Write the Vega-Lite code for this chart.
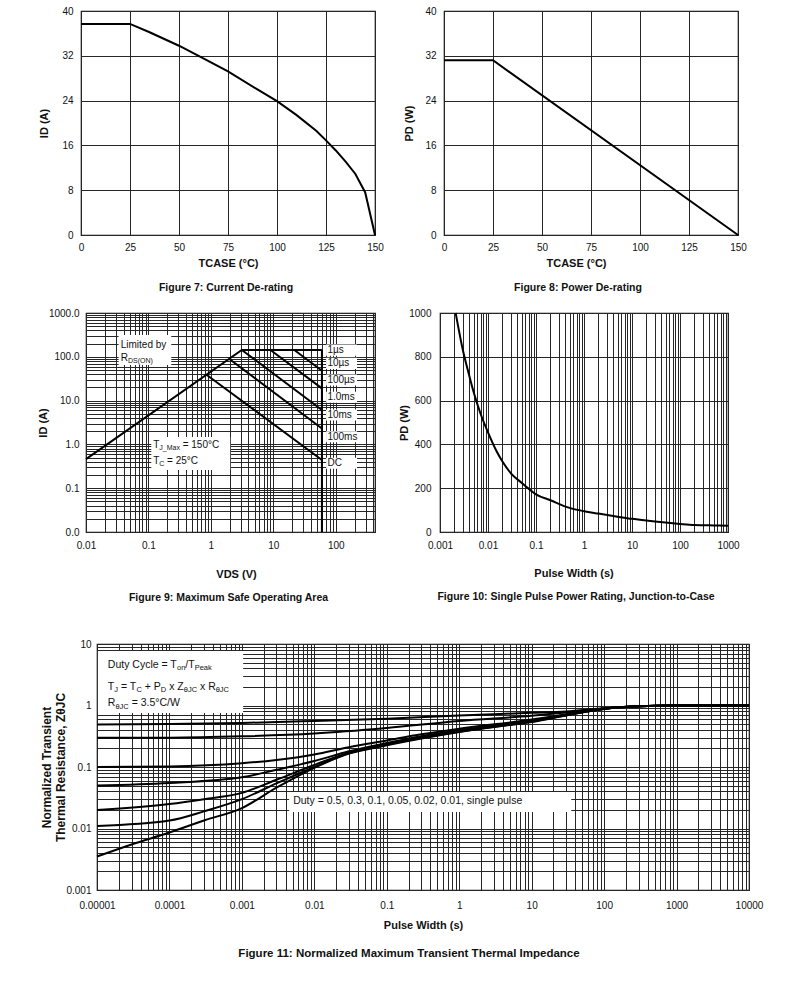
{
  "$schema": "https://vega.github.io/schema/vega-lite/v6.json",
  "background": "white",
  "padding": {"left": 0, "top": 5, "right": 5, "bottom": 5},
  "config": {
    "font": "Liberation Sans",
    "view": {"stroke": "#111", "strokeWidth": 1.2},
    "axis": {"domain": false, "ticks": false, "grid": true, "gridColor": "#262626", "gridOpacity": 1, "gridWidth": 1, "labelFont": "Liberation Sans", "labelFontSize": 10, "labelColor": "#111", "titleFont": "Liberation Sans", "titleFontSize": 11, "titleFontWeight": "bold", "titleColor": "#111", "labelFlush": false, "labelOverlap": false},
    "title": {"orient": "bottom", "anchor": "middle", "fontSize": 10.5, "fontWeight": "bold", "color": "#111", "font": "Liberation Sans", "offset": 15}
  },
  "vconcat": [
    {
      "vconcat": [
        {
          "hconcat": [
            {"width": 1, "height": 1, "view": {"stroke": null}, "data": {"values": [{}]}, "mark": {"type": "text", "text": ""}},
            {
              "hconcat": [
                {
                  "width": 294, "height": 224,
                  "title": {"text": "Figure 7:  Current De-rating", "dx": -2},
                  "data": {"values": [
                    {"T": 0, "I": 37.7}, {"T": 25, "I": 37.7}, {"T": 35, "I": 36.2}, {"T": 50, "I": 33.8}, {"T": 60, "I": 32.0}, {"T": 75, "I": 29.2}, {"T": 90, "I": 26.0}, {"T": 100, "I": 23.9}, {"T": 110, "I": 21.4}, {"T": 120, "I": 18.6}, {"T": 125, "I": 16.9}, {"T": 130, "I": 15.1}, {"T": 135, "I": 13.1}, {"T": 140, "I": 10.9}, {"T": 145, "I": 7.6}, {"T": 150, "I": 0}
                  ]},
                  "mark": {"type": "line", "color": "black", "strokeWidth": 2},
                  "encoding": {
                    "x": {"field": "T", "type": "quantitative", "scale": {"domain": [0, 150], "nice": false}, "axis": {"values": [0, 25, 50, 75, 100, 125, 150], "title": "TCASE (°C)", "labelPadding": 7, "titlePadding": 5}},
                    "y": {"field": "I", "type": "quantitative", "scale": {"domain": [0, 40], "nice": false}, "axis": {"values": [0, 8, 16, 24, 32, 40], "title": "ID (A)", "labelPadding": 8, "titlePadding": 12}}
                  }
                },
                {
                  "width": 294, "height": 224,
                  "title": {"text": "Figure 8:  Power De-rating", "dx": -13},
                  "data": {"values": [
                    {"T": 0, "P": 31.2}, {"T": 25, "P": 31.2}, {"T": 150, "P": 0}
                  ]},
                  "mark": {"type": "line", "color": "black", "strokeWidth": 2},
                  "encoding": {
                    "x": {"field": "T", "type": "quantitative", "scale": {"domain": [0, 150], "nice": false}, "axis": {"values": [0, 25, 50, 75, 100, 125, 150], "title": "TCASE (°C)", "labelPadding": 7, "titlePadding": 5, "titleX": 132}},
                    "y": {"field": "P", "type": "quantitative", "scale": {"domain": [0, 40], "nice": false}, "axis": {"values": [0, 8, 16, 24, 32, 40], "title": "PD (W)", "labelPadding": 8, "titlePadding": 10}}
                  }
                }
              ],
              "spacing": 19
            }
          ],
          "spacing": 37
        },
        {
          "hconcat": [
            {"width": 1, "height": 1, "view": {"stroke": null}, "data": {"values": [{}]}, "mark": {"type": "text", "text": ""}},
            {
              "hconcat": [
                {
                  "width": 289, "height": 219,
                  "title": {"text": "Figure 9:  Maximum Safe Operating Area", "dx": -2, "offset": 14},
                  "layer": [
                    {
                      "data": {"values": [
                        {"x1": 0.0333, "x2": 0.232, "y1": 65, "y2": 315},
                        {"x1": 0.111, "x2": 2.04, "y1": 0.26, "y2": 1.48},
                        {"x1": 70, "x2": 219, "y1": 106, "y2": 192},
                        {"x1": 70, "x2": 219, "y1": 53, "y2": 95},
                        {"x1": 70, "x2": 219, "y1": 22, "y2": 39.5},
                        {"x1": 70, "x2": 219, "y1": 8.9, "y2": 15.9},
                        {"x1": 70, "x2": 219, "y1": 3.5, "y2": 6.3},
                        {"x1": 70, "x2": 219, "y1": 1.12, "y2": 2.0},
                        {"x1": 70, "x2": 219, "y1": 0.277, "y2": 0.495}
                      ]},
                      "mark": {"type": "rect", "fill": "white"},
                      "encoding": {
                        "x": {"field": "x1", "type": "quantitative", "scale": {"type": "log", "domain": [0.01, 425], "nice": false}, "axis": {"title": "VDS (V)", "values": [0.01, 0.02, 0.03, 0.04, 0.05, 0.06, 0.07, 0.08, 0.09, 0.1, 0.2, 0.3, 0.4, 0.5, 0.6, 0.7, 0.8, 0.9, 1, 2, 3, 4, 5, 6, 7, 8, 9, 10, 20, 30, 40, 50, 60, 70, 80, 90, 100, 200, 300, 400], "labelExpr": "abs(log(datum.value)/LN10 - round(log(datum.value)/LN10)) < 0.01 ? format(datum.value, '~g') : ''", "labelPadding": 8, "titlePadding": 18, "titleX": 150}},
                        "x2": {"field": "x2"},
                        "y": {"field": "y1", "type": "quantitative", "scale": {"type": "log", "domain": [0.01, 1000], "nice": false}, "axis": {"title": "ID (A)", "values": [0.01, 0.02, 0.03, 0.04, 0.05, 0.06, 0.07, 0.08, 0.09, 0.1, 0.2, 0.3, 0.4, 0.5, 0.6, 0.7, 0.8, 0.9, 1, 2, 3, 4, 5, 6, 7, 8, 9, 10, 20, 30, 40, 50, 60, 70, 80, 90, 100, 200, 300, 400, 500, 600, 700, 800, 900, 1000], "labelExpr": "abs(log(datum.value)/LN10 - round(log(datum.value)/LN10)) < 0.01 ? format(datum.value, '.1f') : ''", "labelPadding": 7, "titlePadding": 0}},
                        "y2": {"field": "y2"}
                      }
                    },
                    {
                      "data": {"values": [
                        {"s": "rds", "v": 0.01, "i": 0.46}, {"s": "rds", "v": 3.13, "i": 143}, {"s": "rds", "v": 60, "i": 143},
                        {"s": "vert", "v": 60, "i": 143}, {"s": "vert", "v": 60, "i": 0.01},
                        {"s": "10us", "v": 21.7, "i": 143}, {"s": "10us", "v": 60, "i": 48},
                        {"s": "100us", "v": 9.0, "i": 143}, {"s": "100us", "v": 60, "i": 19},
                        {"s": "1ms", "v": 3.13, "i": 143}, {"s": "1ms", "v": 60, "i": 6.1},
                        {"s": "10ms", "v": 2.0, "i": 88}, {"s": "10ms", "v": 60, "i": 2.3},
                        {"s": "dc", "v": 0.85, "i": 39}, {"s": "dc", "v": 60, "i": 0.44}
                      ]},
                      "mark": {"type": "line", "color": "black", "strokeWidth": 2},
                      "encoding": {
                        "x": {"field": "v", "type": "quantitative"},
                        "y": {"field": "i", "type": "quantitative"},
                        "detail": {"field": "s"}
                      }
                    },
                    {
                      "data": {"values": [
                        {"x": 0.036, "y": 186, "t": "Limited by"},
                        {"x": 0.036, "y": 94, "t": "R"},
                        {"x": 0.119, "y": 0.97, "t": "T"},
                        {"x": 0.3535, "y": 0.97, "t": "= 150°C"},
                        {"x": 0.119, "y": 0.42, "t": "T"},
                        {"x": 0.199, "y": 0.42, "t": "= 25°C"},
                        {"x": 73.5, "y": 143, "t": "1µs"},
                        {"x": 73.5, "y": 71, "t": "10µs"},
                        {"x": 73.5, "y": 29.5, "t": "100µs"},
                        {"x": 73.5, "y": 11.9, "t": "1.0ms"},
                        {"x": 73.5, "y": 4.69, "t": "10ms"},
                        {"x": 73.5, "y": 1.5, "t": "100ms"},
                        {"x": 73.5, "y": 0.37, "t": "DC"}
                      ]},
                      "mark": {"type": "text", "align": "left", "baseline": "middle", "fontSize": 10, "color": "#111"},
                      "encoding": {
                        "x": {"field": "x", "type": "quantitative"},
                        "y": {"field": "y", "type": "quantitative"},
                        "text": {"field": "t"}
                      }
                    },
                    {
                      "data": {"values": [
                        {"x": 0.047, "y": 78.2, "t": "DS(ON)"},
                        {"x": 0.1491, "y": 0.807, "t": "J_Max"},
                        {"x": 0.1491, "y": 0.349, "t": "C"}
                      ]},
                      "mark": {"type": "text", "align": "left", "baseline": "middle", "fontSize": 7, "color": "#111"},
                      "encoding": {
                        "x": {"field": "x", "type": "quantitative"},
                        "y": {"field": "y", "type": "quantitative"},
                        "text": {"field": "t"}
                      }
                    }
                  ]
                },
                {
                  "width": 288, "height": 219,
                  "title": {"text": "Figure 10:  Single Pulse Power Rating, Junction-to-Case", "dx": -8, "offset": 14},
                  "data": {"values": [
                    {"t": 0.00212, "p": 1000}, {"t": 0.003, "p": 830}, {"t": 0.004, "p": 720}, {"t": 0.005, "p": 640}, {"t": 0.007, "p": 540}, {"t": 0.01, "p": 455}, {"t": 0.015, "p": 370}, {"t": 0.02, "p": 322}, {"t": 0.03, "p": 268}, {"t": 0.05, "p": 225}, {"t": 0.07, "p": 198}, {"t": 0.1, "p": 172}, {"t": 0.2, "p": 145}, {"t": 0.5, "p": 110}, {"t": 1, "p": 95}, {"t": 2, "p": 84}, {"t": 5, "p": 70}, {"t": 10, "p": 60}, {"t": 20, "p": 52}, {"t": 50, "p": 43}, {"t": 100, "p": 37}, {"t": 200, "p": 32}, {"t": 500, "p": 30}, {"t": 1000, "p": 29}
                  ]},
                  "mark": {"type": "line", "color": "black", "strokeWidth": 2, "interpolate": "monotone"},
                  "encoding": {
                    "x": {"field": "t", "type": "quantitative", "scale": {"type": "log", "domain": [0.001, 1000], "nice": false}, "axis": {"title": "Pulse Width (s)", "values": [0.001, 0.002, 0.003, 0.004, 0.005, 0.006, 0.007, 0.008, 0.009, 0.01, 0.02, 0.03, 0.04, 0.05, 0.06, 0.07, 0.08, 0.09, 0.1, 0.2, 0.3, 0.4, 0.5, 0.6, 0.7, 0.8, 0.9, 1, 2, 3, 4, 5, 6, 7, 8, 9, 10, 20, 30, 40, 50, 60, 70, 80, 90, 100, 200, 300, 400, 500, 600, 700, 800, 900, 1000], "labelExpr": "abs(log(datum.value)/LN10 - round(log(datum.value)/LN10)) < 0.01 ? format(datum.value, '~g') : ''", "labelPadding": 8, "titlePadding": 17, "titleX": 133.5}},
                    "y": {"field": "p", "type": "quantitative", "scale": {"domain": [0, 1000], "nice": false}, "axis": {"title": "PD (W)", "values": [0, 200, 400, 600, 800, 1000], "format": "d", "labelPadding": 9, "titlePadding": -1}}
                  }
                }
              ],
              "spacing": 22
            }
          ],
          "spacing": 35
        }
      ],
      "spacing": 12
    },
    {
      "hconcat": [
        {"width": 1, "height": 1, "view": {"stroke": null}, "data": {"values": [{}]}, "mark": {"type": "text", "text": ""}},
        {
          "width": 652, "height": 246,
          "title": {"text": "Figure 11:  Normalized Maximum Transient Thermal Impedance", "dx": -14, "fontSize": 11.5, "offset": 18},
          "layer": [
            {
              "data": {"values": [
                {"x1": 0.0000103, "x2": 0.00104, "y1": 0.755, "y2": 7.7},
                {"x1": 0.00449, "x2": 35.2, "y1": 0.0185, "y2": 0.0392}
              ]},
              "mark": {"type": "rect", "fill": "white"},
              "encoding": {
                "x": {"field": "x1", "type": "quantitative", "scale": {"type": "log", "domain": [0.00001, 10000], "nice": false}, "axis": {"title": "Pulse Width (s)", "values": [0.00001, 0.00002, 0.00003, 0.00004, 0.00005, 0.00006, 0.00007, 0.00008, 0.00009, 0.0001, 0.0002, 0.0003, 0.0004, 0.0005, 0.0006, 0.0007, 0.0008, 0.0009, 0.001, 0.002, 0.003, 0.004, 0.005, 0.006, 0.007, 0.008, 0.009, 0.01, 0.02, 0.03, 0.04, 0.05, 0.06, 0.07, 0.08, 0.09, 0.1, 0.2, 0.3, 0.4, 0.5, 0.6, 0.7, 0.8, 0.9, 1, 2, 3, 4, 5, 6, 7, 8, 9, 10, 20, 30, 40, 50, 60, 70, 80, 90, 100, 200, 300, 400, 500, 600, 700, 800, 900, 1000, 2000, 3000, 4000, 5000, 6000, 7000, 8000, 9000, 10000], "labelExpr": "abs(log(datum.value)/LN10 - round(log(datum.value)/LN10)) < 0.01 ? format(datum.value, '~g') : ''", "labelPadding": 10, "titlePadding": 9}},
                "x2": {"field": "x2"},
                "y": {"field": "y1", "type": "quantitative", "scale": {"type": "log", "domain": [0.001, 10], "nice": false}, "axis": {"title": ["Normalized Transient", "Thermal Resistance, ZθJC"], "titleFontSize": 12, "titleLineHeight": 14, "values": [0.001, 0.002, 0.003, 0.004, 0.005, 0.006, 0.007, 0.008, 0.009, 0.01, 0.02, 0.03, 0.04, 0.05, 0.06, 0.07, 0.08, 0.09, 0.1, 0.2, 0.3, 0.4, 0.5, 0.6, 0.7, 0.8, 0.9, 1, 2, 3, 4, 5, 6, 7, 8, 9, 10], "labelExpr": "abs(log(datum.value)/LN10 - round(log(datum.value)/LN10)) < 0.01 ? format(datum.value, '~g') : ''", "labelPadding": 6, "titlePadding": -2}},
                "y2": {"field": "y2"}
              }
            },
            {
              "data": {"values": [
                {"d": "0.5", "t": 0.00001, "z": 0.49}, {"d": "0.5", "t": 0.0001, "z": 0.50}, {"d": "0.5", "t": 0.001, "z": 0.52}, {"d": "0.5", "t": 0.01, "z": 0.56}, {"d": "0.5", "t": 0.1, "z": 0.61}, {"d": "0.5", "t": 1, "z": 0.69}, {"d": "0.5", "t": 10, "z": 0.76}, {"d": "0.5", "t": 30, "z": 0.80}, {"d": "0.5", "t": 100, "z": 0.90}, {"d": "0.5", "t": 300, "z": 0.97}, {"d": "0.5", "t": 1000, "z": 1.0}, {"d": "0.5", "t": 10000, "z": 1.0},
                {"d": "0.3", "t": 0.00001, "z": 0.30}, {"d": "0.3", "t": 0.0001, "z": 0.30}, {"d": "0.3", "t": 0.001, "z": 0.315}, {"d": "0.3", "t": 0.01, "z": 0.35}, {"d": "0.3", "t": 0.1, "z": 0.43}, {"d": "0.3", "t": 1, "z": 0.56}, {"d": "0.3", "t": 10, "z": 0.68}, {"d": "0.3", "t": 30, "z": 0.77}, {"d": "0.3", "t": 100, "z": 0.89}, {"d": "0.3", "t": 300, "z": 0.97}, {"d": "0.3", "t": 1000, "z": 1.0}, {"d": "0.3", "t": 10000, "z": 1.0},
                {"d": "0.1", "t": 0.00001, "z": 0.10}, {"d": "0.1", "t": 0.0001, "z": 0.102}, {"d": "0.1", "t": 0.001, "z": 0.115}, {"d": "0.1", "t": 0.003, "z": 0.13}, {"d": "0.1", "t": 0.01, "z": 0.16}, {"d": "0.1", "t": 0.03, "z": 0.21}, {"d": "0.1", "t": 0.1, "z": 0.27}, {"d": "0.1", "t": 0.3, "z": 0.34}, {"d": "0.1", "t": 1, "z": 0.42}, {"d": "0.1", "t": 10, "z": 0.59}, {"d": "0.1", "t": 30, "z": 0.72}, {"d": "0.1", "t": 100, "z": 0.89}, {"d": "0.1", "t": 300, "z": 0.97}, {"d": "0.1", "t": 1000, "z": 1.0}, {"d": "0.1", "t": 10000, "z": 1.0},
                {"d": "0.05", "t": 0.00001, "z": 0.05}, {"d": "0.05", "t": 0.0001, "z": 0.055}, {"d": "0.05", "t": 0.001, "z": 0.068}, {"d": "0.05", "t": 0.003, "z": 0.09}, {"d": "0.05", "t": 0.01, "z": 0.125}, {"d": "0.05", "t": 0.03, "z": 0.18}, {"d": "0.05", "t": 0.1, "z": 0.245}, {"d": "0.05", "t": 0.3, "z": 0.315}, {"d": "0.05", "t": 1, "z": 0.395}, {"d": "0.05", "t": 10, "z": 0.57}, {"d": "0.05", "t": 30, "z": 0.71}, {"d": "0.05", "t": 100, "z": 0.89}, {"d": "0.05", "t": 300, "z": 0.97}, {"d": "0.05", "t": 1000, "z": 1.0}, {"d": "0.05", "t": 10000, "z": 1.0},
                {"d": "0.02", "t": 0.00001, "z": 0.020}, {"d": "0.02", "t": 0.0001, "z": 0.025}, {"d": "0.02", "t": 0.0003, "z": 0.030}, {"d": "0.02", "t": 0.001, "z": 0.038}, {"d": "0.02", "t": 0.003, "z": 0.062}, {"d": "0.02", "t": 0.01, "z": 0.108}, {"d": "0.02", "t": 0.03, "z": 0.17}, {"d": "0.02", "t": 0.1, "z": 0.235}, {"d": "0.02", "t": 0.3, "z": 0.30}, {"d": "0.02", "t": 1, "z": 0.38}, {"d": "0.02", "t": 10, "z": 0.555}, {"d": "0.02", "t": 30, "z": 0.70}, {"d": "0.02", "t": 100, "z": 0.885}, {"d": "0.02", "t": 300, "z": 0.97}, {"d": "0.02", "t": 1000, "z": 1.0}, {"d": "0.02", "t": 10000, "z": 1.0},
                {"d": "0.01", "t": 0.00001, "z": 0.011}, {"d": "0.01", "t": 0.0001, "z": 0.0135}, {"d": "0.01", "t": 0.0003, "z": 0.019}, {"d": "0.01", "t": 0.001, "z": 0.030}, {"d": "0.01", "t": 0.003, "z": 0.054}, {"d": "0.01", "t": 0.01, "z": 0.10}, {"d": "0.01", "t": 0.03, "z": 0.167}, {"d": "0.01", "t": 0.1, "z": 0.23}, {"d": "0.01", "t": 0.3, "z": 0.295}, {"d": "0.01", "t": 1, "z": 0.375}, {"d": "0.01", "t": 10, "z": 0.545}, {"d": "0.01", "t": 30, "z": 0.695}, {"d": "0.01", "t": 100, "z": 0.88}, {"d": "0.01", "t": 300, "z": 0.97}, {"d": "0.01", "t": 1000, "z": 1.0}, {"d": "0.01", "t": 10000, "z": 1.0},
                {"d": "single", "t": 0.00001, "z": 0.0035}, {"d": "single", "t": 0.00003, "z": 0.0055}, {"d": "single", "t": 0.0001, "z": 0.0086}, {"d": "single", "t": 0.0003, "z": 0.0135}, {"d": "single", "t": 0.001, "z": 0.0215}, {"d": "single", "t": 0.003, "z": 0.046}, {"d": "single", "t": 0.01, "z": 0.097}, {"d": "single", "t": 0.03, "z": 0.165}, {"d": "single", "t": 0.1, "z": 0.225}, {"d": "single", "t": 0.3, "z": 0.29}, {"d": "single", "t": 1, "z": 0.37}, {"d": "single", "t": 3, "z": 0.45}, {"d": "single", "t": 10, "z": 0.54}, {"d": "single", "t": 30, "z": 0.69}, {"d": "single", "t": 100, "z": 0.88}, {"d": "single", "t": 300, "z": 0.97}, {"d": "single", "t": 1000, "z": 1.0}, {"d": "single", "t": 10000, "z": 1.0}
              ]},
              "mark": {"type": "line", "color": "black", "strokeWidth": 2, "interpolate": "monotone"},
              "encoding": {
                "x": {"field": "t", "type": "quantitative"},
                "y": {"field": "z", "type": "quantitative"},
                "detail": {"field": "d"}
              }
            },
            {
              "data": {"values": [
                {"x": 0.0000141, "y": 4.56, "t": "Duty Cycle = T"},
                {"x": 0.0001658, "y": 4.56, "t": "/T"},
                {"x": 0.0000141, "y": 2.02, "t": "T"},
                {"x": 0.00002138, "y": 2.02, "t": "= T"},
                {"x": 0.00004557, "y": 2.02, "t": "+ P"},
                {"x": 0.000099, "y": 2.02, "t": "x Z"},
                {"x": 0.0002641, "y": 2.02, "t": "x R"},
                {"x": 0.0000141, "y": 1.09, "t": "R"},
                {"x": 0.00003006, "y": 1.09, "t": "= 3.5°C/W"},
                {"x": 0.0051, "y": 0.028, "t": "Duty = 0.5, 0.3, 0.1, 0.05, 0.02, 0.01, single pulse"}
              ]},
              "mark": {"type": "text", "align": "left", "baseline": "middle", "fontSize": 10.5, "color": "#111"},
              "encoding": {
                "x": {"field": "x", "type": "quantitative"},
                "y": {"field": "y", "type": "quantitative"},
                "text": {"field": "t"}
              }
            },
            {
              "data": {"values": [
                {"x": 0.000127, "y": 4.0, "t": "on"},
                {"x": 0.0002229, "y": 4.0, "t": "Peak"},
                {"x": 0.000017295, "y": 1.77, "t": "J"},
                {"x": 0.00003497, "y": 1.77, "t": "C"},
                {"x": 0.00007596, "y": 1.77, "t": "D"},
                {"x": 0.0001575, "y": 1.77, "t": "θJC"},
                {"x": 0.0004347, "y": 1.77, "t": "θJC"},
                {"x": 0.00001794, "y": 0.956, "t": "θJC"}
              ]},
              "mark": {"type": "text", "align": "left", "baseline": "middle", "fontSize": 7.5, "color": "#111"},
              "encoding": {
                "x": {"field": "x", "type": "quantitative"},
                "y": {"field": "y", "type": "quantitative"},
                "text": {"field": "t"}
              }
            }
          ]
        }
      ],
      "spacing": 39
    }
  ],
  "spacing": 33
}
